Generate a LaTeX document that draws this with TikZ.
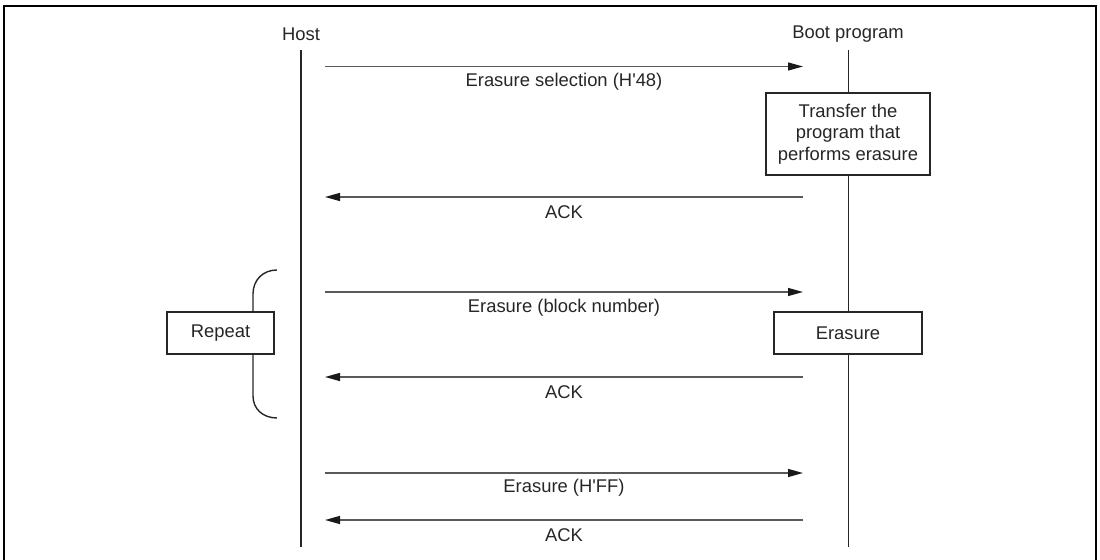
\documentclass[tikz,border=0pt]{standalone}
\usepackage{fontspec}
\setmainfont{Liberation Sans}
\usetikzlibrary{arrows.meta}
\begin{document}
\begin{tikzpicture}[x=0.5pt,y=-0.5pt,
  every node/.style={font=\fontsize{9.2}{10.75}\selectfont, text=black!85},
  lifeline/.style={line width=0.7pt, black!85},
  msg/.style={line width=0.65pt, black!65, -{Triangle[length=7.5pt,width=4pt,black!90]}},
  lbl/.style={inner sep=0pt, anchor=center},
  procbox/.style={draw=black!85, line width=0.75pt, fill=white, align=center, inner sep=0pt},
  bracepath/.style={line width=0.7pt, black!85}]
\useasboundingbox (0,0) rectangle (1100,560);
\clip (0,0) rectangle (1100,560);
% frame
\draw[line width=1.3pt] (4,6) rectangle (1096,620);
% lifeline heads
\node[lbl] (host) at (301,34) {Host};
\node[lbl] (boot) at (848,34) {Boot program};
\coordinate (hostTop) at (301,50);
\coordinate (hostBot) at (301,547);
\coordinate (bootTop) at (848.5,50);
\coordinate (bootBot) at (848.5,547);
\draw[lifeline] (hostTop) -- (hostBot);
\draw[lifeline] (bootTop) -- (bootBot);
% boxes
\node[procbox, minimum width=82pt, minimum height=41pt] (transfer) at (848,134)
  {Transfer the\\program that\\performs erasure};
\node[procbox, minimum width=74pt, minimum height=21pt] (erase) at (848,333) {Erasure};
\node[procbox, minimum width=53.5pt, minimum height=21pt] (repeat) at (220.5,333) {Repeat};
% brace
\coordinate (brTop) at (277,270);
\coordinate (brBot) at (277,418);
\draw[bracepath] (brTop) .. controls (263,270) and (253,280) .. (253,294) -- (repeat.north -| 253,0);
\draw[bracepath] (repeat.south -| 253,0) -- (253,396) .. controls (253,409) and (263,418) .. (brBot);
% message endpoints
\foreach \n/\y in {a/66.5,b/197,c/292,d/377,e/473,f/520}{
  \coordinate (L\n) at (325,\y);
  \coordinate (R\n) at (803,\y);
}
\draw[msg] (La) -- (Ra);
\node[lbl] (ta) at (564,82) {Erasure selection (H\textquotesingle 48)};
\draw[msg] (Rb) -- (Lb);
\node[lbl] (tb) at (564,212.5) {ACK};
\draw[msg] (Lc) -- (Rc);
\node[lbl] (tc) at (564,307.5) {Erasure (block number)};
\draw[msg] (Rd) -- (Ld);
\node[lbl] (td) at (564,392.5) {ACK};
\draw[msg] (Le) -- (Re);
\node[lbl] (te) at (564,488) {Erasure (H\textquotesingle FF)};
\draw[msg] (Rf) -- (Lf);
\node[lbl] (tf) at (564,535.5) {ACK};
\end{tikzpicture}
\end{document}
